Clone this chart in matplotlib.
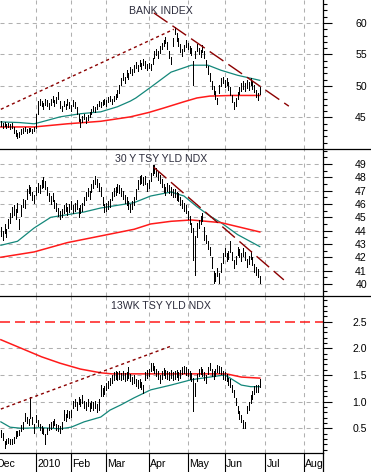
import matplotlib
matplotlib.use('Agg')
import matplotlib.pyplot as plt
from matplotlib.lines import Line2D
import numpy as np

plt.rcParams['font.family'] = ['Liberation Sans', 'DejaVu Sans']
plt.rcParams['lines.scale_dashes'] = False

# ---------------- data ----------------
month_labels = ['Dec', '2010', 'Feb', 'Mar', 'Apr', 'May', 'Jun', 'Jul', 'Aug']
month_start = [-3, 19, 38, 57, 80, 101, 121, 143, 164]   # trading-day index

bank_low = [43.6, 43.4, 43.6, 43.3, 43.5, 43.2, 43.3, 42.6, 42.1, 41.7, 41.9, 42.4, 42.6, 42.9, 42.5, 42.7,
            42.8, 42.6, 42.8, 43.4, 45.5, 47.0, 46.8, 46.3, 47.0, 46.9, 46.4, 47.0, 47.5, 46.9, 47.3, 48.0,
            46.5, 46.0, 46.8, 46.3, 47.0, 46.5, 46.1, 46.8, 46.5, 45.6, 44.5, 43.5, 44.3, 44.8, 44.2, 44.6,
            45.0, 45.5, 46.0, 45.8, 46.4, 46.8, 46.6, 47.0, 47.2, 46.9, 47.4, 47.6, 47.2, 47.6, 47.9, 48.3,
            48.9, 50.2, 51.0, 50.5, 51.5, 51.1, 52.0, 51.7, 52.3, 52.8, 52.4, 53.1, 52.7, 53.3, 52.9, 52.5,
            52.8, 52.5, 53.5, 54.5, 54.9, 54.5, 55.3, 55.9, 56.3, 56.8, 55.9, 54.4, 53.5, 56.4, 58.2, 57.2,
            56.4, 55.4, 54.7, 55.5, 56.2, 55.9, 55.3, 54.9, 50.2, 54.4, 55.6, 55.0, 54.6, 55.4, 54.4, 53.0,
            51.9, 50.8, 49.6, 48.8, 48.0, 47.1, 48.9, 50.0, 50.4, 49.8, 50.2, 49.4, 48.6, 47.4, 46.4, 46.9,
            47.9, 48.7, 49.2, 49.6, 49.2, 49.7, 49.4, 50.1, 49.6, 49.0, 48.2, 47.8, 48.8]
bank_high = [44.4, 44.1, 44.3, 44.0, 44.2, 43.9, 44.1, 43.5, 43.0, 42.5, 42.7, 43.2, 43.3, 43.5, 43.2, 43.3,
             43.4, 43.2, 43.5, 45.6, 47.6, 48.0, 47.6, 47.3, 48.0, 47.7, 47.3, 47.9, 48.4, 47.8, 48.2, 49.1,
             47.6, 46.9, 47.6, 47.2, 47.9, 47.4, 47.0, 47.7, 47.4, 46.7, 45.6, 44.7, 45.2, 45.6, 45.0, 45.4,
             45.8, 46.4, 46.8, 46.6, 47.2, 47.6, 47.4, 47.8, 48.0, 47.7, 48.2, 48.4, 48.0, 48.4, 48.7, 49.3,
             50.1, 51.3, 52.0, 51.4, 52.5, 52.0, 53.0, 52.7, 53.3, 53.8, 53.4, 54.1, 53.7, 54.3, 53.9, 53.5,
             53.7, 53.5, 54.5, 55.5, 55.9, 55.5, 56.3, 56.9, 57.3, 57.8, 57.0, 55.6, 54.6, 57.6, 59.4, 58.4,
             57.6, 56.6, 55.8, 56.5, 57.3, 56.9, 56.3, 56.0, 54.0, 55.6, 56.7, 56.1, 55.7, 56.5, 55.5, 54.2,
             53.1, 52.0, 50.8, 50.0, 49.2, 48.1, 50.1, 51.2, 51.5, 51.0, 51.3, 50.6, 49.8, 48.6, 47.5, 48.1,
             49.1, 49.9, 50.4, 50.8, 50.4, 50.9, 50.6, 51.3, 50.8, 50.2, 49.4, 48.9, 49.8]
bank_ma50_x = [0, 10, 18, 22, 32, 43, 54, 63, 70, 73, 81, 92, 103, 112, 119, 128, 140]
bank_ma50 = [44.3, 44.2, 44.0, 44.3, 45.1, 45.6, 45.9, 46.7, 47.6, 48.1, 49.8, 52.2, 53.3, 53.3, 52.5, 51.7, 50.9]
bank_ma200_x = [0, 18, 36, 54, 70, 80, 88, 99, 106, 113, 125, 140]
bank_ma200 = [43.5, 43.5, 44.0, 44.4, 45.1, 45.8, 46.5, 47.5, 48.1, 48.4, 48.5, 48.5]
bank_trend_up_x, bank_trend_up = [0, 93.5], [46.3, 59.0]
bank_trend_dn_x, bank_trend_dn = [82.7, 155.7], [61.6, 46.8]

tsy30_low = [43.6, 43.3, 43.8, 43.5, 44.2, 44.6, 45.0, 45.2, 44.9, 45.4, 44.1, 45.1, 45.8, 45.7, 46.4, 46.8,
             46.7, 46.3, 46.1, 46.7, 46.9, 46.8, 47.2, 47.3, 47.1, 46.7, 46.2, 46.0, 46.2, 45.7, 45.5, 45.1,
             44.9, 45.0, 45.3, 45.5, 45.2, 45.4, 45.6, 45.3, 45.5, 45.6, 45.0, 45.3, 45.5, 45.9, 46.3, 46.6,
             46.4, 46.9, 47.2, 47.5, 47.3, 47.0, 46.6, 45.9, 45.4, 45.5, 45.6, 45.8, 46.3, 46.6, 46.7, 46.9,
             46.8, 46.6, 46.4, 46.1, 45.9, 45.6, 45.4, 45.6, 45.9, 46.4, 47.1, 47.5, 47.6, 47.4, 47.5, 47.0,
             47.2, 47.7, 48.2, 48.3, 48.1, 47.8, 47.6, 47.3, 46.9, 46.7, 47.0, 46.8, 46.7, 46.5, 46.5, 46.3,
             46.2, 45.9, 45.7, 45.5, 45.3, 44.9, 44.5, 43.9, 41.8, 40.7, 43.5, 44.2, 44.5, 44.7, 43.3, 43.1,
             42.6, 42.2, 41.2, 40.1, 40.2, 40.6, 40.1, 40.9, 41.6, 42.1, 41.7, 41.9, 42.4, 41.8, 41.2, 41.5,
             42.2, 42.0, 41.7, 42.1, 41.8, 41.3, 41.5, 41.9, 41.4, 40.9, 40.7, 40.5, 40.1]
tsy30_high = [44.3, 44.0, 44.5, 44.1, 44.9, 45.3, 45.8, 45.9, 45.6, 46.1, 44.9, 45.9, 46.4, 46.3, 47.1, 47.4,
              47.3, 46.9, 46.7, 47.3, 47.6, 47.4, 47.8, 48.0, 47.7, 47.3, 46.8, 46.6, 46.8, 46.3, 46.1, 45.7,
              45.5, 45.6, 45.9, 46.1, 45.8, 46.0, 46.2, 45.9, 46.1, 46.3, 45.7, 45.9, 46.1, 46.5, 46.9, 47.2,
              47.0, 47.5, 47.8, 48.1, 47.9, 47.6, 47.3, 46.5, 46.0, 46.1, 46.2, 46.4, 46.9, 47.2, 47.3, 47.5,
              47.4, 47.2, 47.0, 46.7, 46.5, 46.2, 46.0, 46.2, 46.5, 47.1, 47.8, 48.1, 48.2, 48.0, 48.1, 47.6,
              47.8, 48.3, 48.9, 48.9, 48.7, 48.4, 48.2, 47.9, 47.5, 47.3, 47.6, 47.4, 47.3, 47.1, 47.1, 46.9,
              46.8, 46.5, 46.3, 46.1, 45.9, 45.5, 45.1, 44.6, 44.2, 43.6, 44.6, 44.8, 45.1, 45.3, 44.3, 43.7,
              43.2, 42.8, 42.0, 41.0, 40.8, 41.2, 40.8, 41.6, 42.3, 42.7, 42.3, 42.5, 43.2, 42.4, 41.8, 42.1,
              42.8, 42.6, 42.3, 42.7, 42.4, 41.9, 42.1, 42.5, 42.0, 41.5, 41.3, 41.1, 40.6]
tsy30_ma50_x = [0, 9, 18, 27, 36, 45, 54, 63, 72, 81, 92, 99, 106, 113, 119, 128, 140]
tsy30_ma50 = [42.9, 43.2, 44.2, 45.0, 45.2, 45.4, 45.7, 45.9, 46.1, 46.6, 46.9, 46.6, 45.8, 45.1, 44.6, 43.7, 42.8]
tsy30_ma200_x = [0, 18, 36, 54, 72, 81, 92, 103, 119, 128, 140]
tsy30_ma200 = [42.0, 42.4, 43.1, 43.6, 44.1, 44.5, 44.7, 44.8, 44.6, 44.3, 43.9]
tsy30_trend_x, tsy30_trend = [82.7, 153.0], [48.75, 40.3]

wk13_low = [0.33, 0.28, 0.13, 0.20, 0.22, 0.20, 0.20, 0.23, 0.32, 0.35, 0.37, 0.44, 0.49, 0.64, 0.59, 0.56,
            0.70, 0.58, 0.42, 0.61, 0.54, 0.46, 0.42, 0.39, 0.20, 0.39, 0.46, 0.49, 0.52, 0.56, 0.46, 0.44,
            0.42, 0.49, 0.66, 0.63, 0.71, 0.69, 0.71, 0.88, 0.91, 0.85, 0.95, 0.91, 0.98, 0.88, 0.85, 0.91,
            0.83, 0.88, 0.85, 0.88, 0.80, 0.85, 1.10, 1.11, 1.15, 1.21, 1.25, 1.31, 1.35, 1.41, 1.43, 1.41,
            1.43, 1.40, 1.43, 1.39, 1.41, 1.45, 1.38, 1.33, 1.35, 1.29, 1.26, 1.28, 1.23, 1.17, 1.41, 1.45,
            1.48, 1.58, 1.60, 1.53, 1.48, 1.43, 1.34, 1.43, 1.49, 1.45, 1.43, 1.41, 1.45, 1.41, 1.43, 1.46,
            1.41, 1.45, 1.51, 1.53, 1.50, 1.48, 1.43, 1.39, 0.82, 1.10, 1.38, 1.48, 1.51, 1.48, 1.41, 1.35,
            1.51, 1.59, 1.48, 1.43, 1.48, 1.55, 1.53, 1.51, 1.43, 1.41, 1.38, 1.31, 1.28, 1.18, 1.08, 0.93,
            0.78, 0.68, 0.61, 0.51, 0.50, 0.78, 0.85, 0.98, 1.05, 1.15, 1.18, 1.18, 1.28]
wk13_high = [0.47, 0.42, 0.27, 0.30, 0.32, 0.30, 0.30, 0.33, 0.44, 0.45, 0.47, 0.56, 0.61, 0.78, 0.71, 0.68,
             1.09, 0.72, 0.58, 0.75, 0.66, 0.58, 0.54, 0.51, 0.40, 0.51, 0.58, 0.61, 0.64, 0.68, 0.58, 0.56,
             0.54, 0.61, 0.84, 0.77, 0.85, 0.83, 0.85, 1.02, 1.05, 0.99, 1.09, 1.05, 1.12, 1.02, 0.99, 1.05,
             0.97, 1.02, 0.99, 1.02, 0.96, 1.05, 1.32, 1.25, 1.29, 1.35, 1.39, 1.45, 1.49, 1.55, 1.57, 1.55,
             1.57, 1.54, 1.57, 1.53, 1.55, 1.64, 1.52, 1.47, 1.49, 1.43, 1.40, 1.42, 1.37, 1.32, 1.55, 1.59,
             1.62, 1.72, 1.72, 1.67, 1.62, 1.57, 1.50, 1.57, 1.63, 1.59, 1.57, 1.55, 1.59, 1.55, 1.57, 1.60,
             1.55, 1.59, 1.65, 1.67, 1.64, 1.62, 1.57, 1.53, 1.45, 1.35, 1.52, 1.62, 1.65, 1.62, 1.55, 1.49,
             1.65, 1.72, 1.62, 1.57, 1.62, 1.69, 1.67, 1.65, 1.57, 1.55, 1.52, 1.45, 1.42, 1.32, 1.22, 1.07,
             0.92, 0.82, 0.75, 0.65, 0.62, 0.92, 0.99, 1.12, 1.19, 1.29, 1.32, 1.32, 1.42]
wk13_ma50_x = [0, 5, 11, 22, 32, 38, 45, 54, 59, 65, 72, 81, 92, 103, 113, 121, 124, 130, 135, 140]
wk13_ma50 = [0.62, 0.52, 0.50, 0.51, 0.49, 0.52, 0.62, 0.71, 0.84, 0.94, 1.07, 1.22, 1.31, 1.41, 1.46, 1.50,
             1.44, 1.31, 1.28, 1.28]
wk13_ma200_x = [0, 11, 22, 32, 43, 54, 60, 122, 130, 140]
wk13_ma200 = [2.16, 2.00, 1.84, 1.72, 1.61, 1.54, 1.52, 1.52, 1.46, 1.44]
wk13_trend_x, wk13_trend = [0, 92], [0.86, 2.04]
wk13_level = 2.5

# ---------------- style ----------------
W, H = 371, 472
BLACK = '#000000'
TEAL = '#13877a'
RED = '#ff1a1a'
DARKRED = '#8b0000'
GRID = '#b0b0b0'
TITLE = '#2c2c3c'
XR = (-0.46, 173.9)
AX_RIGHT = 322.5
SHORT_DASH = (0, (2.2, 2.2))
LONG_DASH = (0, (12, 4.3))

fig = plt.figure(figsize=(W / 100, H / 100), dpi=100)


def px_axes(top, bottom):
    return fig.add_axes([0, (H - bottom) / H, AX_RIGHT / W, (bottom - top) / H])


def setup(ax, ylim, major, minor, labels, grid_vals):
    ax.set_xlim(*XR)
    ax.set_ylim(*ylim)
    ax.yaxis.tick_right()
    ax.set_yticks(major)
    ax.set_yticklabels(labels)
    ax.set_yticks(minor, minor=True)
    ax.tick_params(axis='y', which='major', direction='out', length=6.5, width=0.8,
                   pad=25.5, labelsize=7.6, colors=BLACK)
    ax.tick_params(axis='y', which='minor', direction='out', length=3, width=0.8)
    for lab in ax.get_yticklabels():
        lab.set_ha('right')
    for s in ['left', 'top', 'bottom']:
        ax.spines[s].set_visible(False)
    ax.spines['right'].set_linewidth(0.9)
    ax.set_xticks([])
    for g in grid_vals:
        ax.axhline(g, color=GRID, lw=0.75, ls=(0, (2.9, 2.9)), zorder=0)
    for m in month_start:
        ax.axvline(m, color=GRID, lw=0.75, ls=(0, (2.9, 2.9)), zorder=0)
    ax.patch.set_alpha(0)


def bars(ax, low, high):
    ax.vlines(np.arange(len(low)), low, high, color=BLACK, lw=0.68, zorder=3, antialiased=False)


# Panel 1: Bank index
ax1 = px_axes(0, 149)
setup(ax1, (40, 63.65), [45, 50, 55, 60], np.arange(41, 64, 1), ['45', '50', '55', '60'],
      [45, 50, 55, 60])
bars(ax1, bank_low, bank_high)
ax1.plot(bank_ma50_x, bank_ma50, color=TEAL, lw=0.9, zorder=2)
ax1.plot(bank_ma200_x, bank_ma200, color=RED, lw=1.1, zorder=2)
ax1.plot(bank_trend_up_x, bank_trend_up, color=DARKRED, lw=1.0, ls=SHORT_DASH, zorder=4)
ax1.plot(bank_trend_dn_x, bank_trend_dn, color=DARKRED, lw=1.0, ls=LONG_DASH, zorder=4)

# Panel 2: 30Y yield
ax2 = px_axes(149, 296)
setup(ax2, (39.09, 50.13), np.arange(40, 50, 1), np.arange(39.5, 50.1, 0.5),
      [str(v) for v in range(40, 50)], np.arange(40, 50, 1))
bars(ax2, tsy30_low, tsy30_high)
ax2.plot(tsy30_ma50_x, tsy30_ma50, color=TEAL, lw=0.9, zorder=2)
ax2.plot(tsy30_ma200_x, tsy30_ma200, color=RED, lw=1.1, zorder=2)
ax2.plot(tsy30_trend_x, tsy30_trend, color=DARKRED, lw=1.0, ls=LONG_DASH, zorder=4)

# Panel 3: 13 week yield
ax3 = px_axes(296, 453)
setup(ax3, (0.036, 2.98), [0.5, 1.0, 1.5, 2.0, 2.5], np.arange(0.1, 2.95, 0.1),
      ['0.5', '1.0', '1.5', '2.0', '2.5'], [0.5, 1.0, 1.5, 2.0])
ax3.spines['bottom'].set_visible(True)
ax3.spines['bottom'].set_linewidth(0.9)
bars(ax3, wk13_low, wk13_high)
ax3.plot(wk13_ma50_x, wk13_ma50, color=TEAL, lw=0.9, zorder=2)
ax3.plot(wk13_ma200_x, wk13_ma200, color=RED, lw=1.1, zorder=2)
ax3.plot(wk13_trend_x, wk13_trend, color=DARKRED, lw=1.0, ls=SHORT_DASH, zorder=4)
ax3.axhline(wk13_level, color=RED, lw=1.1, ls=(0, (7.2, 3.6)), zorder=2)

# Month label strip
axl = fig.add_axes([0, 0, AX_RIGHT / W, 19 / H])
axl.set_xlim(*XR)
axl.set_ylim(0, 1)
axl.axis('off')
axl.vlines(month_start, 0, 1, color=BLACK, lw=0.8)
for m, lab in zip(month_start, month_labels):
    axl.text(m + 0.6, 0.42, lab, ha='left', va='center', fontsize=7.6, color=BLACK, clip_on=True)

# Dividers and right axis continuation
for yp in (149, 296):
    fig.add_artist(Line2D([0, 1], [(H - yp) / H] * 2, color=BLACK, lw=0.9))
fig.add_artist(Line2D([AX_RIGHT / W] * 2, [0, 19 / H], color=BLACK, lw=0.9))

# Titles
for txt, yp in (('BANK INDEX', 11), ('30 Y TSY YLD NDX', 159), ('13WK TSY YLD NDX', 306)):
    fig.text(161 / W, (H - yp) / H, txt, ha='center', va='center', fontsize=7.6, color=TITLE)

fig.savefig('out.png', dpi=100)
